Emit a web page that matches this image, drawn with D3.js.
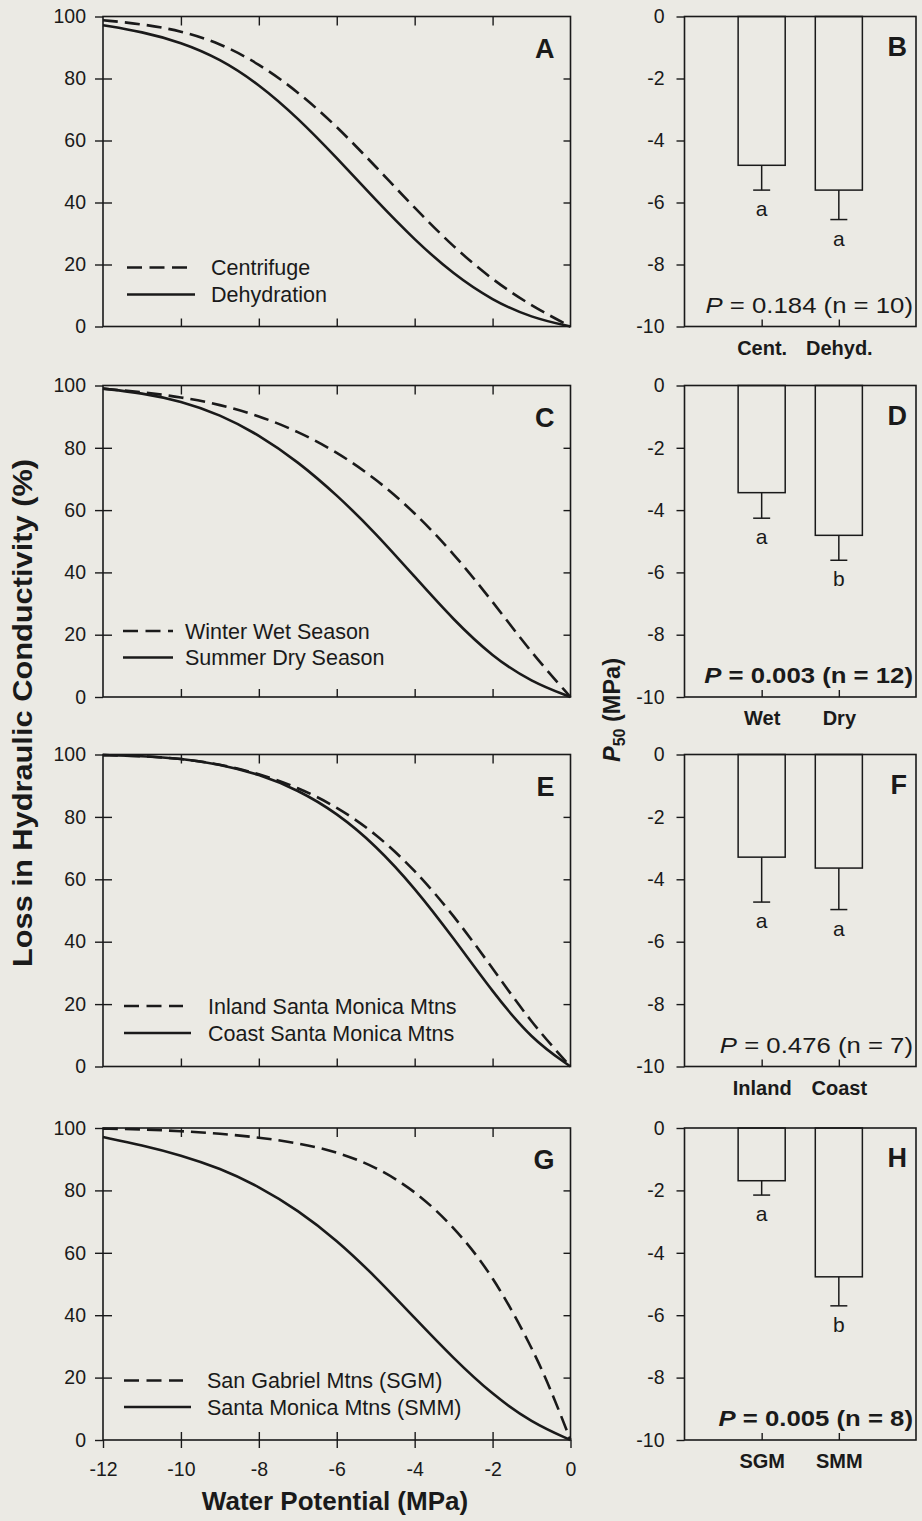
<!DOCTYPE html>
<html><head><meta charset="utf-8">
<script src="https://cdn.jsdelivr.net/npm/d3@7"></script>
<style>
body{margin:0;background:#ebeae4;}
svg{display:block}
text{font-family:"Liberation Sans",Arial,sans-serif;fill:#1a1a1a}
</style>
</head><body>
<svg id="chart" width="922" height="1521"></svg>
<script>
// ---------- data ----------
const waterPotential = [-12,-11,-10,-9,-8,-7,-6,-5,-4,-3,-2,-1,0];
const waterPotentialSGM = [-12,-11,-10,-9,-8,-7,-6,-5,-4,-3,-2,-1,-0.5,0];
const centrifuge  = [98.8,97.6,95.4,91.4,84.8,75.8,64.6,51.6,38.2,25.6,15.0,6.6,0];
const dehydration = [97.2,95.1,91.7,86.4,78.2,67.3,54.4,40.8,27.9,16.8,8.4,2.8,0];
const winterWet   = [99.0,97.9,96.3,93.9,90.3,85.3,78.7,70.1,59.3,46.1,30.7,14.1,0];
const summerDry   = [99.0,97.6,95.0,90.7,84.2,75.6,64.9,52.6,38.6,24.7,12.9,4.8,0];
const inlandSMM   = [99.8,99.5,98.7,96.9,93.9,89.5,83.3,74.7,63.1,48.5,31.5,13.9,0];
const coastSMM    = [99.8,99.5,98.7,96.9,93.7,88.7,81.3,70.9,57.3,41.1,23.9,8.7,0];
const sanGabriel  = [99.8,99.6,99.0,98.2,97.0,95.2,92.4,87.6,80.0,68.5,53.0,30.0,16.0,0];
const santaMonica = [97.1,94.5,91.3,87.1,81.3,73.7,64.1,52.3,39.1,26.1,14.5,5.6,0];

const legendLabels = [
  ["Centrifuge","Dehydration"],
  ["Winter Wet Season","Summer Dry Season"],
  ["Inland Santa Monica Mtns","Coast Santa Monica Mtns"],
  ["San Gabriel Mtns (SGM)","Santa Monica Mtns (SMM)"]
];
const curveLetters = ["A","C","E","G"];
const barLetters = ["B","D","F","H"];

const barCategories = [["Cent.","Dehyd."],["Wet","Dry"],["Inland","Coast"],["SGM","SMM"]];
const p50Means = [[-4.8,-5.6],[-3.44,-4.81],[-3.29,-3.64],[-1.69,-4.77]];
const p50Errors = [[0.8,0.95],[0.82,0.8],[1.44,1.33],[0.46,0.93]];
const sigLetters = [["a","a"],["a","b"],["a","a"],["a","b"]];
const pValues = ["0.184","0.003","0.476","0.005"];
const nValues = [10,12,7,8];
const pBold = [false,true,false,true];

const plcTicks = [0,20,40,60,80,100];
const wpTicks = [-12,-10,-8,-6,-4,-2,0];
const p50Ticks = [0,-2,-4,-6,-8,-10];

// ---------- layout ----------
const svg = d3.select("#chart");
const bg = "#ebeae4", ink = "#1a1a1a";
const rowTop = [16.5, 385.5, 754.5, 1128];
const rowBot = [326.5, 697, 1066.5, 1440];
const LX0 = 103, LX1 = 570.5;
const RX0 = 684.5, RX1 = 916;
const tickFont = 19.5;
const fmt = d => String(d);

const curves = [
  [{x:waterPotential,y:centrifuge},{x:waterPotential,y:dehydration}],
  [{x:waterPotential,y:winterWet},{x:waterPotential,y:summerDry}],
  [{x:waterPotential,y:inlandSMM},{x:waterPotential,y:coastSMM}],
  [{x:waterPotentialSGM,y:sanGabriel},{x:waterPotential,y:santaMonica}]
];
const legendPos = [
  {x0:127,x1:187,x1s:195,tx:211,y:[267.5,294.5]},
  {x0:123,x1:173,x1s:173,tx:185,y:[631,657.5]},
  {x0:124,x1:183,x1s:191,tx:208,y:[1006,1033]},
  {x0:124,x1:183,x1s:191,tx:207,y:[1380.5,1407]}
];

function styleAxis(g, size){
  g.select(".domain").remove();
  g.selectAll(".tick line").attr("stroke",ink).attr("stroke-width",1.4);
  g.selectAll(".tick text").attr("font-size",size).attr("fill",ink)
    .attr("font-family",'"Liberation Sans",Arial,sans-serif');
}

for(let r=0;r<4;r++){
  const top=rowTop[r], bot=rowBot[r];
  // ---- left: vulnerability curves ----
  const x = d3.scaleLinear().domain([-12,0]).range([LX0,LX1]);
  const y = d3.scaleLinear().domain([0,100]).range([bot,top]);
  const gl = svg.append("g");
  gl.append("g").attr("transform",`translate(${LX0},0)`)
    .call(d3.axisLeft(y).tickValues(plcTicks).tickSizeInner(8).tickSizeOuter(0).tickPadding(9).tickFormat(fmt))
    .call(g=>styleAxis(g,tickFont));
  gl.append("g").attr("transform",`translate(${LX0},0)`)
    .call(d3.axisRight(y).tickValues(plcTicks.slice(1,5)).tickSize(9).tickFormat(""))
    .call(g=>styleAxis(g,tickFont));
  gl.append("g").attr("transform",`translate(${LX1},0)`)
    .call(d3.axisLeft(y).tickValues(plcTicks.slice(1,5)).tickSize(7).tickFormat(""))
    .call(g=>styleAxis(g,tickFont));
  gl.append("g").attr("transform",`translate(0,${top})`)
    .call(d3.axisBottom(x).tickValues(wpTicks.slice(1,6)).tickSize(9).tickFormat(""))
    .call(g=>styleAxis(g,tickFont));
  gl.append("g").attr("transform",`translate(0,${bot})`)
    .call(d3.axisTop(x).tickValues(wpTicks.slice(1,6)).tickSize(8).tickFormat(""))
    .call(g=>styleAxis(g,tickFont));
  if(r===3){
    gl.append("g").attr("transform",`translate(0,${bot})`)
      .call(d3.axisBottom(x).tickValues(wpTicks).tickSizeInner(8).tickSizeOuter(0).tickPadding(14).tickFormat(fmt))
      .call(g=>styleAxis(g,tickFont));
  }
  gl.append("rect").attr("x",LX0).attr("y",top).attr("width",LX1-LX0).attr("height",bot-top)
    .attr("fill","none").attr("stroke",ink).attr("stroke-width",1.6);
  const line = d3.line().curve(d3.curveBasis);
  curves[r].forEach((s,i)=>{
    const pts = s.x.map((v,k)=>[x(v), y(s.y[k])]);
    gl.append("path").attr("d",line(pts)).attr("fill","none").attr("stroke",ink)
      .attr("stroke-width",2.6).attr("stroke-dasharray", i===0?"15,7":null);
  });
  const lp = legendPos[r];
  gl.append("line").attr("x1",lp.x0).attr("x2",lp.x1).attr("y1",lp.y[0]).attr("y2",lp.y[0])
    .attr("stroke",ink).attr("stroke-width",2.6).attr("stroke-dasharray","15,7.5");
  gl.append("line").attr("x1",lp.x0).attr("x2",lp.x1s).attr("y1",lp.y[1]).attr("y2",lp.y[1])
    .attr("stroke",ink).attr("stroke-width",2.6);
  legendLabels[r].forEach((t,i)=>{
    gl.append("text").attr("x",lp.tx).attr("y",lp.y[i]+7.5).attr("font-size",21.5).text(t);
  });
  gl.append("text").attr("x",LX1-16).attr("y",top+41).attr("text-anchor","end")
    .attr("font-size",27).attr("font-weight","bold").text(curveLetters[r]);

  // ---- right: P50 bars ----
  const xb = d3.scalePoint().domain(barCategories[r]).range([RX0,RX1]).padding(1);
  const yb = d3.scaleLinear().domain([0,-10]).range([top,bot]);
  const gr = svg.append("g");
  const bw = xb.step()*0.61;
  barCategories[r].forEach((c,i)=>{
    const cx = xb(c), m = p50Means[r][i], e = p50Errors[r][i];
    gr.append("line").attr("x1",cx).attr("x2",cx).attr("y1",yb(m)).attr("y2",yb(m-e))
      .attr("stroke",ink).attr("stroke-width",1.5);
    gr.append("line").attr("x1",cx-8.5).attr("x2",cx+8.5).attr("y1",yb(m-e)).attr("y2",yb(m-e))
      .attr("stroke",ink).attr("stroke-width",1.5);
    gr.append("rect").attr("x",cx-bw/2).attr("y",yb(0)).attr("width",bw).attr("height",yb(m)-yb(0))
      .attr("fill",bg).attr("stroke",ink).attr("stroke-width",1.5);
    gr.append("text").attr("x",cx).attr("y",yb(m-e)+26).attr("text-anchor","middle")
      .attr("font-size",21).text(sigLetters[r][i]);
  });
  gr.append("g").attr("transform",`translate(${RX0},0)`)
    .call(d3.axisLeft(yb).tickValues(p50Ticks).tickSizeInner(8).tickSizeOuter(0).tickPadding(12).tickFormat(fmt))
    .call(g=>styleAxis(g,tickFont));
  gr.append("g").attr("transform",`translate(0,${bot})`)
    .call(d3.axisTop(xb).tickSize(7).tickFormat(""))
    .call(g=>styleAxis(g,tickFont));
  gr.append("g").attr("transform",`translate(0,${bot})`)
    .call(d3.axisBottom(xb).tickSize(0).tickPadding(14))
    .call(g=>styleAxis(g,20))
    .call(g=>g.selectAll(".tick text").attr("font-weight","bold"));
  gr.append("rect").attr("x",RX0).attr("y",top).attr("width",RX1-RX0).attr("height",bot-top)
    .attr("fill","none").attr("stroke",ink).attr("stroke-width",1.6);
  gr.append("text").attr("x",RX1-9).attr("y",top+39).attr("text-anchor","end")
    .attr("font-size",27).attr("font-weight","bold").text(barLetters[r]);
  const pt = gr.append("text").attr("transform",`translate(${RX1-3},${bot-14}) scale(1.17,1)`)
    .attr("text-anchor","end")
    .attr("font-size",22).attr("font-weight",pBold[r]?"bold":"normal");
  pt.append("tspan").attr("font-style","italic").text("P");
  pt.append("tspan").text(` = ${pValues[r]} (n = ${nValues[r]})`);
}

// axis titles
svg.append("text").attr("transform","translate(335,1510)").attr("text-anchor","middle")
  .attr("font-size",26).attr("font-weight","bold").text("Water Potential (MPa)");
svg.append("text").attr("transform","translate(32,713) rotate(-90) scale(1.12,1)").attr("text-anchor","middle")
  .attr("font-size",27.5).attr("font-weight","bold").text("Loss in Hydraulic Conductivity (%)");
const p50t = svg.append("text").attr("transform","translate(620,710) rotate(-90)").attr("text-anchor","middle")
  .attr("font-size",23.5).attr("font-weight","bold");
p50t.append("tspan").attr("font-style","italic").text("P");
p50t.append("tspan").attr("font-size",16).attr("dy",5).text("50");
p50t.append("tspan").attr("dy",-5).text(" (MPa)");
</script>
</body></html>
